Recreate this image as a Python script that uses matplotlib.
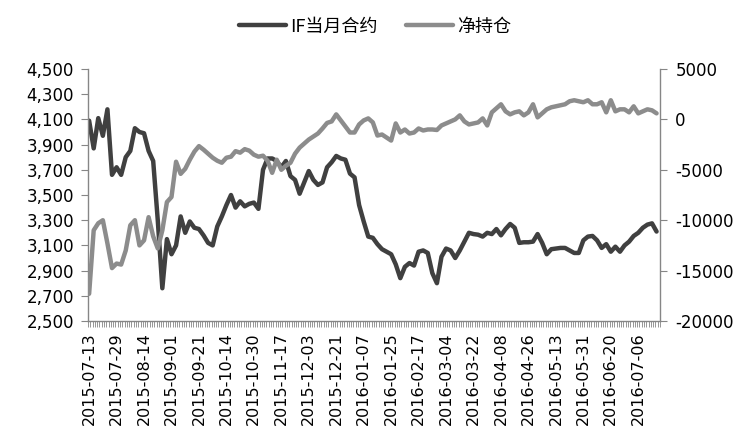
import numpy as np
import matplotlib.pyplot as plt
from matplotlib.ticker import FuncFormatter

plt.rcParams['font.family'] = ['DejaVu Sans']
plt.rcParams['axes.unicode_minus'] = False

# x axis labels (every 12th trading day)
tickLabels = [
    "2015-07-13", "2015-07-29", "2015-08-14", "2015-09-01", "2015-09-21",
    "2015-10-14", "2015-10-30", "2015-11-17", "2015-12-03", "2015-12-21",
    "2016-01-07", "2016-01-25", "2016-02-17", "2016-03-04", "2016-03-22",
    "2016-04-08", "2016-04-26", "2016-05-13", "2016-05-31", "2016-06-20",
    "2016-07-06",
]
nDays = 250

# IF front month price, read every 2nd trading day
ifPrice = [
    4090, 3870, 4110, 3970, 4180, 3660, 3720, 3660, 3800, 3850,
    4030, 4000, 3990, 3850, 3770, 3300, 2760, 3150, 3030, 3100,
    3330, 3200, 3290, 3240, 3230, 3180, 3120, 3100, 3250, 3330,
    3420, 3500, 3400, 3450, 3410, 3430, 3440, 3390, 3700, 3790,
    3790, 3770, 3720, 3770, 3650, 3620, 3510, 3600, 3690, 3620,
    3580, 3600, 3720, 3760, 3810, 3790, 3780, 3670, 3640, 3420,
    3290, 3170, 3160, 3110, 3070, 3050, 3030, 2950, 2840, 2930,
    2960, 2940, 3050, 3060, 3040, 2880, 2800, 3010, 3075, 3060,
    3000, 3060, 3130, 3200, 3190, 3185, 3170, 3200, 3190, 3230,
    3180, 3230, 3270, 3240, 3120, 3125, 3125, 3130, 3190, 3120,
    3030, 3070, 3075, 3080, 3080, 3060, 3040, 3040, 3140, 3170,
    3175, 3140, 3080, 3110, 3050, 3090, 3050, 3100, 3130, 3175,
    3200, 3240, 3265, 3275, 3210,
]

# net position, same dates
netPos = [
    -17300, -11000, -10300, -10000, -12300, -14750, -14300, -14400, -13000, -10500,
    -10000, -12500, -12000, -9700, -11600, -12800, -11000, -8200, -7700, -4200,
    -5400, -4900, -4000, -3200, -2650, -3000, -3400, -3800, -4100, -4300,
    -3800, -3700, -3150, -3300, -2950, -3100, -3500, -3700, -3600, -4100,
    -5300, -4000, -5000, -4600, -4300, -3400, -2800, -2400, -2000, -1700,
    -1400, -900, -350, -200, 500, -100, -700, -1300, -1300, -500,
    -100, 100, -300, -1600, -1500, -1800, -2100, -400, -1300, -1000,
    -1400, -1300, -900, -1100, -1000, -1000, -1050, -600, -400, -200,
    0, 400, -200, -500, -400, -300, 100, -600, 700, 1100,
    1500, 800, 500, 700, 800, 400, 700, 1500, 200, 600,
    1000, 1200, 1300, 1400, 1500, 1800, 1900, 1800, 1700, 1900,
    1500, 1500, 1700, 700, 1900, 800, 1000, 1000, 700, 1300,
    600, 800, 1000, 900, 600,
]

darkColor = "#404040"
grayColor = "#8c8c8c"
axisColor = "#868686"

fig = plt.figure(figsize=(7.5, 4.44), dpi=100)
ax = fig.add_axes([0.1173, 0.277, 0.7627, 0.5676])
ax2 = ax.twinx()

# trading day index of each sample
days = np.arange(len(ifPrice)) * 2

lineIF, = ax.plot(days, ifPrice, color=darkColor, linewidth=3.2, solid_capstyle="round")
lineNet, = ax2.plot(days, netPos, color=grayColor, linewidth=3.2, solid_capstyle="round")

ax.set_xlim(-0.5, nDays - 0.5)
ax.set_ylim(2500, 4500)
ax.set_yticks(np.arange(2500, 4501, 200))
ax.yaxis.set_major_formatter(FuncFormatter(lambda v, p: f"{int(v):,}"))

ax2.set_ylim(-20000, 5000)
ax2.set_yticks(np.arange(-20000, 5001, 5000))
ax2.yaxis.set_major_formatter(FuncFormatter(lambda v, p: f"{int(v)}"))

ax.set_xticks(np.arange(len(tickLabels)) * 12)
ax.set_xticklabels(tickLabels, rotation=90)
ax.set_xticks(np.arange(-0.5, nDays, 1), minor=True)

for a in (ax, ax2):
    a.spines["top"].set_visible(False)
    for s in ("left", "right", "bottom"):
        a.spines[s].set_color(axisColor)
        a.spines[s].set_linewidth(1.0)
ax.spines["right"].set_visible(False)
ax2.spines["left"].set_visible(False)
ax2.spines["bottom"].set_visible(False)

ax.tick_params(axis="y", direction="out", length=5, color=axisColor, labelsize=12, pad=5)
ax2.tick_params(axis="y", direction="out", length=5, color=axisColor, labelsize=12, pad=6)
ax.tick_params(axis="x", which="major", length=0, labelsize=11.5, pad=8)
ax.tick_params(axis="x", which="minor", direction="out", length=4, color=axisColor, width=0.6)

leg = fig.legend(
    [lineIF, lineNet], ["IF当月合约", "净持仓"],
    loc="center", bbox_to_anchor=(0.5, 0.94), ncol=2, frameon=False,
    prop={"family": ["Noto Sans CJK SC", "DejaVu Sans"], "size": 13},
    handlelength=2.6, handletextpad=0.2, columnspacing=1.6,
)

fig.savefig("out.png", dpi=100)
